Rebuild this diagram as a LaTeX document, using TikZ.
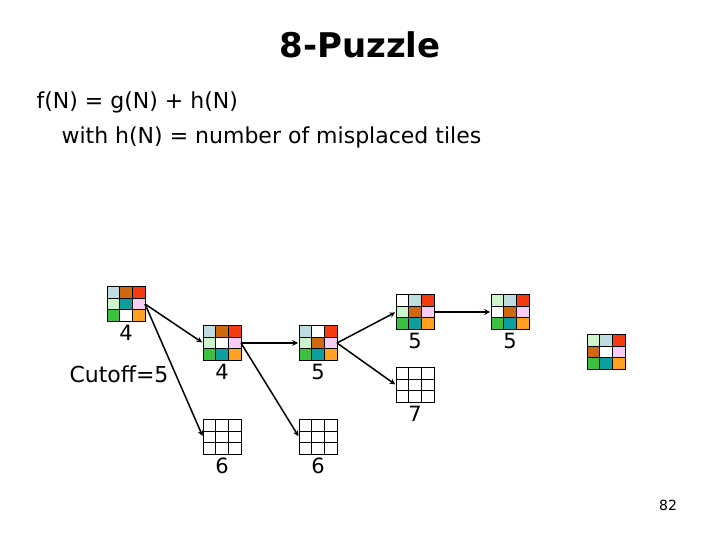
\documentclass[tikz,border=0pt]{standalone}
\usepackage{fontspec}
\setmainfont{DejaVu Sans}
\usepackage{tikz}
\usetikzlibrary{positioning}
\usepackage{xcolor}

\definecolor{tileblue}{HTML}{BFDCE0}
\definecolor{tilebrown}{HTML}{D0680F}
\definecolor{tilered}{HTML}{F53C10}
\definecolor{tilemint}{HTML}{CCF5CC}
\definecolor{tileteal}{HTML}{0E9E9E}
\definecolor{tilepink}{HTML}{F7CCF5}
\definecolor{tilegreen}{HTML}{3CC040}
\definecolor{tileorange}{HTML}{FFA020}

% name, centre, nine tile colours (row by row)
\newcommand{\board}[3]{%
  \node[boardbox] (#1) at (#2) {};
  \foreach \tc [count=\k from 0] in {#3} {
    \pgfmathtruncatemacro{\tcol}{mod(\k,3)}
    \pgfmathtruncatemacro{\trow}{floor(\k/3)}
    \filldraw[fill=\tc,draw=black,line width=1pt]
      ([shift={(\tcol*12.67,\trow*11.67)}]#1.north west) rectangle ++(12.67,11.67);
  }
}

\begin{document}
\begin{tikzpicture}[%
    x=1pt,y=-1pt,
    ->,shorten >=1pt,>=stealth,node distance=2pt,
    boardbox/.style={%
      minimum width=38pt,minimum height=35pt,inner sep=0pt,outer sep=0pt},
    num/.style={font=\fontsize{21}{24}\selectfont,inner sep=1pt},
    conn/.style={line width=1.5pt}
  ]
    \useasboundingbox (0,0) rectangle (720,540);

    \node[font=\bfseries\fontsize{34}{40}\selectfont] (title) at (360,45) {8-Puzzle};
    \node[anchor=west,font=\fontsize{22}{26}\selectfont] (fn) at (33,102) {f(N) = g(N) + h(N)};
    \node[anchor=west,font=\fontsize{22}{26}\selectfont] (hn) at (58,137) {with h(N) = number of misplaced tiles};

    \board{b1}{126,304}{tileblue,tilebrown,tilered,tilemint,tileteal,tilepink,tilegreen,white,tileorange}
    \board{b2}{222,343}{tileblue,tilebrown,tilered,tilemint,white,tilepink,tilegreen,tileteal,tileorange}
    \board{b3}{318,343}{tileblue,white,tilered,tilemint,tilebrown,tilepink,tilegreen,tileteal,tileorange}
    \board{b4}{415,312}{white,tileblue,tilered,tilemint,tilebrown,tilepink,tilegreen,tileteal,tileorange}
    \board{b5}{510,312}{tilemint,tileblue,tilered,white,tilebrown,tilepink,tilegreen,tileteal,tileorange}
    \board{goal}{606,352}{tilemint,tileblue,tilered,tilebrown,white,tilepink,tilegreen,tileteal,tileorange}
    \board{e7}{415,385}{white,white,white,white,white,white,white,white,white}
    \board{e6a}{222,437}{white,white,white,white,white,white,white,white,white}
    \board{e6b}{318,437}{white,white,white,white,white,white,white,white,white}

    \node[num] (f1) [below=of b1]  {4};
    \node[num] (f2) [below=of b2]  {4};
    \node[num] (f3) [below=of b3]  {5};
    \node[num] (f4) [below=of b4]  {5};
    \node[num] (f5) [below=of b5]  {5};
    \node[num] (f7) [below=of e7]  {7};
    \node[num] (f6a) [below=of e6a] {6};
    \node[num] (f6b) [below=of e6b] {6};

    \node[num,font=\fontsize{22}{24}\selectfont] (cut) at (119,374) {Cutoff=5};
    \node[font=\fontsize{14}{16}\selectfont] (page) at (668,505) {82};

    \path[conn] (b1.east) edge (b2.west)
          (b1.east) edge (e6a.west)
          (b2.east) edge (b3.west)
          (b2.east) edge (e6b.west)
          (b3.east) edge (b4.west)
          (b3.east) edge (e7.west)
          (b4.east) edge (b5.west)
          ;
  \end{tikzpicture}
\end{document}
